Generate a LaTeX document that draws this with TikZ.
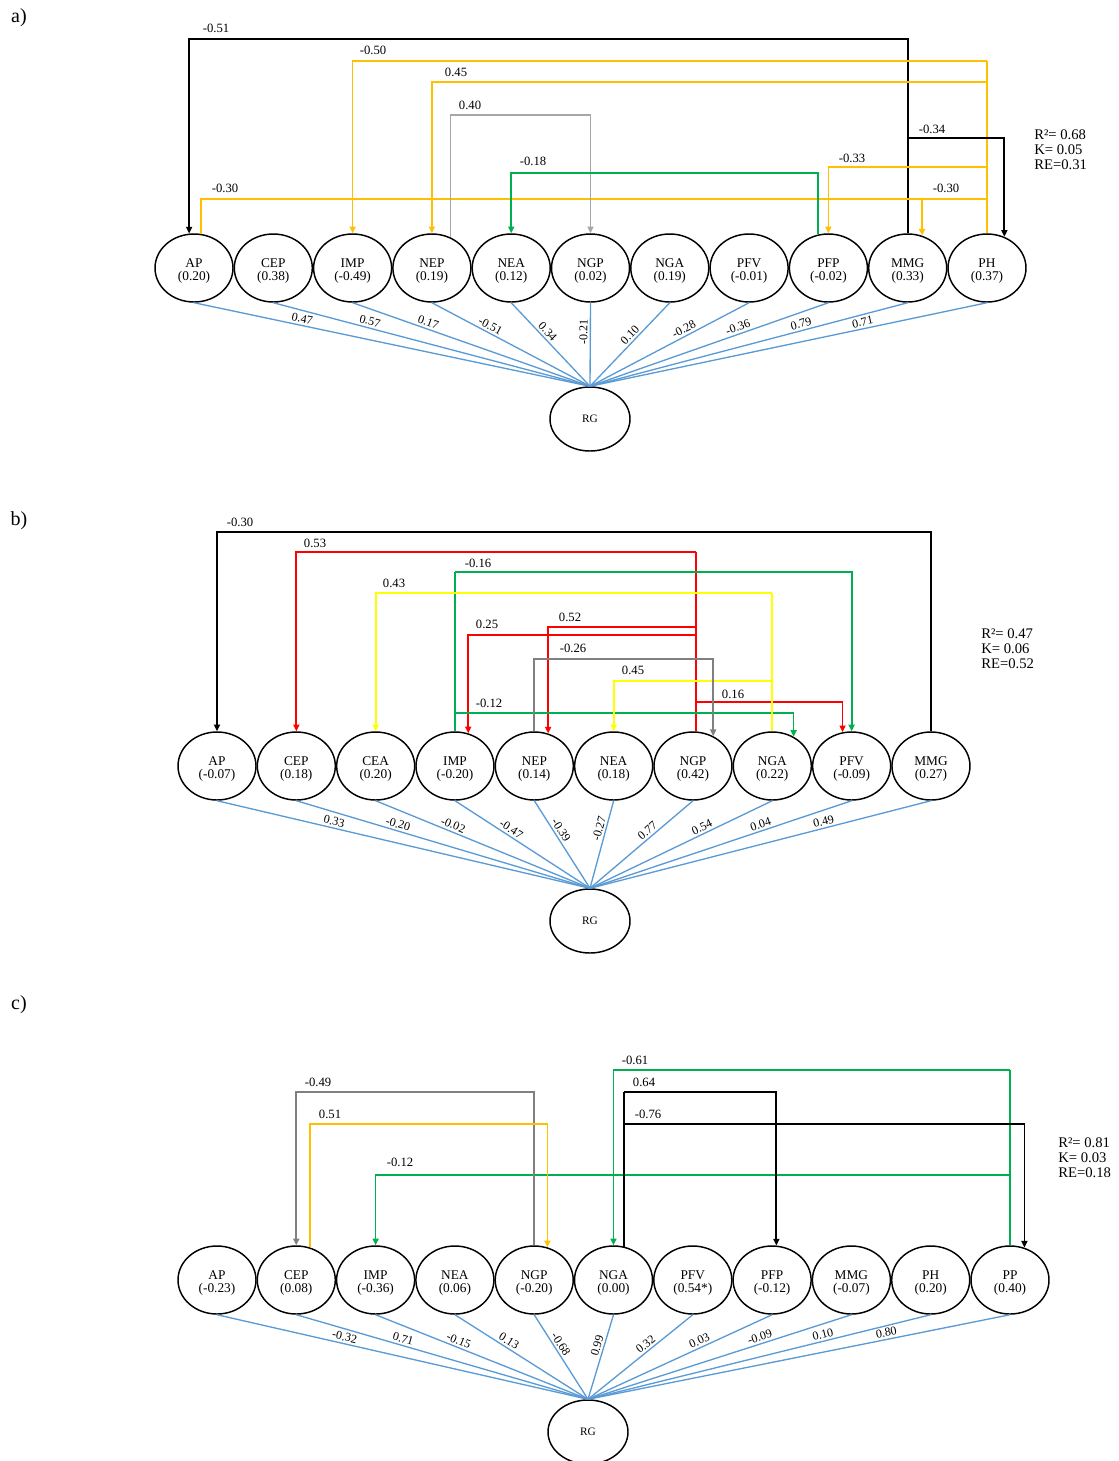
\documentclass[tikz,border=0pt]{standalone}
\usepackage{fontspec}
\setmainfont{Liberation Serif}
\usepackage{tikz}
\usetikzlibrary{shapes.geometric, arrows.meta}
\definecolor{pathblue}{HTML}{5B9BD5}
\definecolor{goldline}{HTML}{FFC000}
\definecolor{greenline}{HTML}{00B050}
\definecolor{redline}{HTML}{FF0000}
\definecolor{yellowline}{HTML}{FFFF00}
\definecolor{lightgrayline}{HTML}{A6A6A6}
\definecolor{grayline}{HTML}{808080}

\begin{document}
\begin{tikzpicture}[
  x=0.75pt, y=-0.75pt,
  var/.style={ellipse, draw, line width=1.1pt, minimum width=58.5pt, minimum height=51pt, inner sep=0pt, align=center, font=\fontsize{10}{10}\selectfont},
  resp/.style={ellipse, draw, line width=1.1pt, minimum width=60pt, minimum height=48pt, inner sep=0pt, font=\fontsize{8.5}{10}\selectfont},
  toRG/.style={draw=pathblue, line width=1pt},
  coef/.style={sloped, above, inner sep=1.5pt, font=\fontsize{9}{10}\selectfont},
  con/.style={line width=1.3pt},
  arr/.style={con, -{Triangle[length=5pt, width=4.5pt]}},
  lbl/.style={inner sep=0pt, font=\fontsize{9.5}{10}\selectfont},
  fitstat/.style={anchor=west, align=left, inner sep=0pt, font=\fontsize{11}{11.3}\selectfont},
  tag/.style={inner sep=0pt, font=\fontsize{15}{15}\selectfont},
]
\useasboundingbox (0,0) rectangle (1119,1461);

% ---------- a) ----------
\node[tag] (a-tag) at (19,18) {a)};
\foreach \nm/\val [count=\i from 0] in {AP/0.20, CEP/0.38, IMP/-0.49, NEP/0.19, NEA/0.12, NGP/0.02, NGA/0.19, PFV/-0.01, PFP/-0.02, MMG/0.33, PH/0.37}
  \node[var] (a-\nm) at (194+\i*79.3, 268) {\rule{0pt}{11pt}\nm\\(\val)};
\node[resp] (a-RG) at (590,419) {RG};

\foreach \nm/\c/\p in {AP/0.47/0.73, CEP/0.57/0.70, IMP/0.17/0.69, NEP/-0.51/0.65, NEA/0.34/0.60, NGP/-0.21/0.65, NGA/0.10/0.56, PFV/-0.28/0.61, PFP/-0.36/0.63, MMG/0.79/0.67, PH/0.71/0.69}
  \draw[toRG] (a-RG.north) -- (a-\nm.south) node[coef, pos=\p] {\c};

\draw[arr] (a-MMG.north) -- (a-MMG.north |- 0,39) -| (a-AP.98);
\draw[con, goldline] (a-PH.north) -- (a-PH.north |- 0,61);
\draw[arr, goldline] (a-PH.north |- 0,61) -| (a-IMP.north);
\draw[arr, goldline] (a-PH.north |- 0,82) -| (a-NEP.north);
\draw[arr, goldline] (a-PH.north |- 0,167) -| (a-PFP.north);
\draw[con, goldline] (a-AP.78) |- (a-PH.north |- 0,199);
\draw[arr, goldline] (a-MMG.66 |- 0,199) -- (a-MMG.66);
\draw[arr, lightgrayline] (a-NEP.59) -- (a-NEP.59 |- 0,115) -| (a-NGP.north);
\draw[arr, greenline] (a-PFP.107) -- (a-PFP.107 |- 0,173) -| (a-NEA.north);
\draw[arr] (a-MMG.north |- 0,138) -| (a-PH.61);

\node[lbl] (a-l1) at (216,28) {-0.51};
\node[lbl] (a-l2) at (373,50) {-0.50};
\node[lbl] (a-l3) at (456,72) {0.45};
\node[lbl] (a-l4) at (470,105) {0.40};
\node[lbl] (a-l5) at (533,161) {-0.18};
\node[lbl] (a-l6) at (225,188) {-0.30};
\node[lbl] (a-l7) at (946,188) {-0.30};
\node[lbl] (a-l8) at (852,158) {-0.33};
\node[lbl] (a-l9) at (932,129) {-0.34};
\node[fitstat] (a-fit) at (1034,150) {R²= 0.68\\K= 0.05\\RE=0.31};

% ---------- b) ----------
\node[tag] (b-tag) at (19,521) {b)};
\foreach \nm/\val [count=\i from 0] in {AP/-0.07, CEP/0.18, CEA/0.20, IMP/-0.20, NEP/0.14, NEA/0.18, NGP/0.42, NGA/0.22, PFV/-0.09, MMG/0.27}
  \node[var] (b-\nm) at (217+\i*79.33, 766) {\rule{0pt}{11pt}\nm\\(\val)};
\node[resp] (b-RG) at (590,921) {RG};

\foreach \nm/\c/\p in {AP/0.33/0.69, CEP/-0.20/0.66, CEA/-0.02/0.65, IMP/-0.47/0.61, NEP/-0.39/0.62, NEA/-0.27/0.66, NGP/0.77/0.60, NGA/0.54/0.63, PFV/0.04/0.66, MMG/0.49/0.69}
  \draw[toRG] (b-RG.north) -- (b-\nm.south) node[coef, pos=\p] {\c};

\draw[arr] (b-MMG.north) -- (b-MMG.north |- 0,532) -| (b-AP.north);
\draw[con, redline] (b-NGP.85) -- (b-NGP.85 |- 0,552);
\draw[arr, redline] (b-NGP.85 |- 0,552) -| (b-CEP.north);
\draw[arr, redline] (b-NGP.85 |- 0,627) -| (b-NEP.67);
\draw[arr, redline] (b-NGP.85 |- 0,635) -| (b-IMP.68);
\draw[arr, redline] (b-NGP.85 |- 0,702) -| (b-PFV.105);
\draw[con, greenline] (b-IMP.north) -- (b-IMP.north |- 0,572);
\draw[arr, greenline] (b-IMP.north |- 0,572) -| (b-PFV.north);
\draw[arr, greenline] (b-IMP.north |- 0,713) -| (b-NGA.54);
\draw[con, yellowline] (b-NGA.north) -- (b-NGA.north |- 0,593);
\draw[arr, yellowline] (b-NGA.north |- 0,593) -| (b-CEA.north);
\draw[arr, yellowline] (b-NGA.north |- 0,681) -| (b-NEA.north);
\draw[arr, grayline] (b-NEP.north) -- (b-NEP.north |- 0,659) -| (b-NGP.56);

\node[lbl] (b-l1) at (240,522) {-0.30};
\node[lbl] (b-l2) at (315,543) {0.53};
\node[lbl] (b-l3) at (478,563) {-0.16};
\node[lbl] (b-l4) at (394,583) {0.43};
\node[lbl] (b-l5) at (570,617) {0.52};
\node[lbl] (b-l6) at (487,624) {0.25};
\node[lbl] (b-l7) at (573,648) {-0.26};
\node[lbl] (b-l8) at (633,670) {0.45};
\node[lbl] (b-l9) at (733,694) {0.16};
\node[lbl] (b-l10) at (489,703) {-0.12};
\node[fitstat] (b-fit) at (981,649) {R²= 0.47\\K= 0.06\\RE=0.52};

% ---------- c) ----------
\node[tag] (c-tag) at (19,1005) {c)};
\foreach \nm/\val [count=\i from 0] in {AP/-0.23, CEP/0.08, IMP/-0.36, NEA/0.06, NGP/-0.20, NGA/0.00, PFV/0.54*, PFP/-0.12, MMG/-0.07, PH/0.20, PP/0.40}
  \node[var] (c-\nm) at (217+\i*79.3, 1280) {\rule{0pt}{11pt}\nm\\(\val)};
\node[resp] (c-RG) at (588,1432) {RG};

\foreach \nm/\c/\p in {AP/-0.32/0.66, CEP/0.71/0.64, IMP/-0.15/0.62, NEA/0.13/0.62, NGP/-0.68/0.61, NGA/0.99/0.61, PFV/0.32/0.59, PFP/0.03/0.62, MMG/-0.09/0.66, PH/0.10/0.69, PP/0.80/0.71}
  \draw[toRG] (c-RG.north) -- (c-\nm.south) node[coef, pos=\p] {\c};

\draw[con, greenline] (c-PP.north) -- (c-PP.north |- 0,1070);
\draw[arr, greenline] (c-PP.north |- 0,1070) -| (c-NGA.north);
\draw[arr, greenline] (c-PP.north |- 0,1175) -| (c-IMP.north);
\draw[con] (c-NGA.72) -- (c-NGA.72 |- 0,1092);
\draw[arr] (c-NGA.72 |- 0,1092) -| (c-PFP.83);
\draw[arr] (c-NGA.72 |- 0,1124) -| (c-PP.66);
\draw[arr, grayline] (c-NGP.north) -- (c-NGP.north |- 0,1092) -| (c-CEP.north);
\draw[arr, goldline] (c-CEP.67) -- (c-CEP.67 |- 0,1124) -| (c-NGP.68);

\node[lbl] (c-l1) at (635,1060) {-0.61};
\node[lbl] (c-l2) at (644,1082) {0.64};
\node[lbl] (c-l3) at (648,1114) {-0.76};
\node[lbl] (c-l4) at (318,1082) {-0.49};
\node[lbl] (c-l5) at (330,1114) {0.51};
\node[lbl] (c-l6) at (400,1162) {-0.12};
\node[fitstat] (c-fit) at (1058,1158) {R²= 0.81\\K= 0.03\\RE=0.18};
\end{tikzpicture}
\end{document}
